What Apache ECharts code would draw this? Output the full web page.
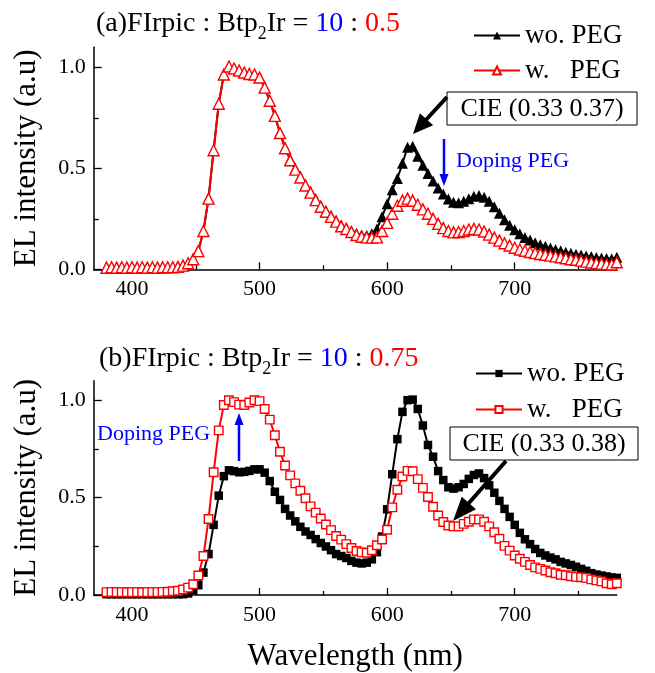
<!DOCTYPE html>
<html><head><meta charset="utf-8">
<script src="https://cdn.jsdelivr.net/npm/echarts@6/dist/echarts.min.js"></script>
<style>html,body{margin:0;padding:0;background:#fff}#c{width:655px;height:673px}</style>
</head><body><div id="c"></div>
<script>
// ---- data ----
const wavelengths = [380,384,388,392,396,400,404,408,412,416,420,424,428,432,436,440,444,448,452,456,
460,464,468,472,476,480,484,488,492,496,500,504,508,512,516,520,524,528,532,536,
540,544,548,552,556,560,564,568,572,576,580,584,588,592,596,600,604,608,612,616,
620,624,628,632,636,640,644,648,652,656,660,664,668,672,676,680,684,688,692,696,
700,704,708,712,716,720,724,728,732,736,740,744,748,752,756,760,764,768,772,776,780];

// (a) wo. PEG (black filled triangles)
const aWo = [0.008,0.01,0.008,0.01,0.008,0.01,0.008,0.01,0.008,0.01,0.008,0.01,0.01,0.01,0.012,0.018,0.03,0.05,0.09,0.19,
0.35,0.59,0.82,0.965,1.005,0.995,0.985,0.975,0.968,0.965,0.95,0.9,0.835,0.76,0.677,0.603,0.545,0.5,0.46,0.42,
0.385,0.348,0.315,0.29,0.265,0.242,0.218,0.205,0.19,0.178,0.17,0.168,0.176,0.2,0.26,0.325,0.394,0.45,0.525,0.605,
0.61,0.56,0.515,0.475,0.437,0.403,0.373,0.348,0.332,0.33,0.337,0.35,0.362,0.366,0.357,0.337,0.31,0.278,0.245,0.218,
0.196,0.176,0.158,0.145,0.132,0.122,0.114,0.106,0.098,0.092,0.085,0.08,0.075,0.071,0.066,0.063,0.059,0.056,0.053,0.052,0.06];
// (a) w. PEG (red open triangles)
const aW = [0.008,0.01,0.008,0.01,0.008,0.01,0.008,0.01,0.008,0.01,0.008,0.01,0.01,0.01,0.012,0.018,0.03,0.05,0.09,0.19,
0.35,0.59,0.82,0.965,1.005,0.995,0.985,0.975,0.968,0.965,0.95,0.9,0.835,0.76,0.675,0.6,0.54,0.494,0.455,0.415,
0.38,0.343,0.31,0.285,0.26,0.236,0.213,0.2,0.185,0.17,0.161,0.158,0.157,0.158,0.19,0.23,0.275,0.315,0.34,0.35,
0.34,0.32,0.297,0.275,0.25,0.225,0.204,0.19,0.183,0.185,0.19,0.197,0.2,0.197,0.187,0.172,0.157,0.142,0.129,0.118,
0.107,0.098,0.092,0.086,0.081,0.076,0.072,0.068,0.064,0.06,0.055,0.05,0.047,0.043,0.038,0.034,0.03,0.028,0.025,0.024,0.035];
// (b) wo. PEG (black filled squares)
const bWo = [0.004,0.004,0.004,0.004,0.004,0.004,0.004,0.004,0.004,0.004,0.004,0.004,0.004,0.004,0.004,0.004,0.008,0.025,0.05,0.115,
0.21,0.36,0.51,0.61,0.64,0.636,0.63,0.632,0.637,0.645,0.645,0.628,0.585,0.53,0.488,0.442,0.408,0.378,0.35,0.326,
0.308,0.287,0.267,0.249,0.23,0.21,0.2,0.19,0.175,0.166,0.162,0.166,0.183,0.22,0.3,0.44,0.62,0.8,0.94,1.0,
1.003,0.955,0.87,0.77,0.71,0.636,0.59,0.553,0.546,0.553,0.57,0.596,0.616,0.624,0.6,0.563,0.525,0.483,0.442,0.401,
0.36,0.319,0.286,0.261,0.236,0.216,0.203,0.192,0.183,0.17,0.162,0.154,0.145,0.134,0.124,0.112,0.105,0.1,0.095,0.09,0.088];
// (b) w. PEG (red open squares)
const bW = [0.015,0.016,0.015,0.015,0.014,0.015,0.015,0.014,0.015,0.015,0.015,0.016,0.017,0.019,0.022,0.028,0.038,0.055,0.1,0.2,
0.39,0.63,0.845,0.975,1.0,0.99,0.977,0.975,0.988,1.0,0.995,0.955,0.9,0.82,0.735,0.665,0.614,0.573,0.535,0.497,
0.455,0.423,0.393,0.362,0.333,0.303,0.284,0.261,0.241,0.226,0.219,0.217,0.23,0.255,0.285,0.335,0.45,0.54,0.608,0.637,
0.635,0.595,0.55,0.503,0.453,0.408,0.375,0.357,0.352,0.352,0.365,0.376,0.388,0.388,0.376,0.352,0.322,0.289,0.252,0.228,
0.203,0.186,0.17,0.154,0.142,0.134,0.126,0.117,0.112,0.104,0.101,0.096,0.093,0.091,0.088,0.08,0.075,0.07,0.06,0.055,0.06];

const xMajorTicks = [400,500,600,700];
const xMinorTicks = [450,550,650,750];
const yMajorTicks = [0,0.5,1.0];
const yMinorTicks = [0.25,0.75];

const FONT = '"Liberation Serif","Times New Roman",serif';
const pairs = v => wavelengths.map((w,i)=>[w,v[i]]);

const chart = echarts.init(document.getElementById('c'), null, {renderer:'canvas'});

const grids = [
  {left:93.7, right:38.2, top:47.3, height:222},
  {left:93.7, right:38.2, top:380.7, height:222}
];
function xAxes(gi, withName){
  return [
    {type:'value', gridIndex:gi, min:370, max:780,
     axisLine:{show:true,lineStyle:{color:'#000',width:1.5}},
     axisTick:{show:true,inside:true,length:7,customValues:xMajorTicks,lineStyle:{color:'#000',width:1.3}},
     axisLabel:{show:true,customValues:xMajorTicks,color:'#000',fontSize:22,fontFamily:FONT,margin:9},
     splitLine:{show:false},
     name: withName?'Wavelength (nm)':'', nameLocation:'middle', nameGap:46,
     nameTextStyle:{color:'#000',fontSize:31,fontFamily:FONT}},
    {type:'value', gridIndex:gi, min:370, max:780, position:'bottom',
     axisLine:{show:false},
     axisTick:{show:true,inside:true,length:4,customValues:xMinorTicks,lineStyle:{color:'#000',width:1.3}},
     axisLabel:{show:false,customValues:xMinorTicks},
     splitLine:{show:false}}
  ];
}
function yAxes(gi){
  return [
    {type:'value', gridIndex:gi, min:0, max:1.1,
     axisLine:{show:true,lineStyle:{color:'#000',width:1.5}},
     axisTick:{show:true,inside:true,length:8,customValues:yMajorTicks,lineStyle:{color:'#000',width:1.3}},
     axisLabel:{show:true,customValues:yMajorTicks,color:'#000',fontSize:22,fontFamily:FONT,margin:8,
       formatter:v=>v.toFixed(1)},
     splitLine:{show:false},
     name:'EL intensity (a.u)', nameLocation:'middle', nameGap:51,
     nameTextStyle:{color:'#000',fontSize:31,fontFamily:FONT}},
    {type:'value', gridIndex:gi, min:0, max:1.1, position:'left',
     axisLine:{show:false},
     axisTick:{show:true,inside:true,length:5,customValues:yMinorTicks,lineStyle:{color:'#000',width:1.3}},
     axisLabel:{show:false,customValues:yMinorTicks},
     splitLine:{show:false}}
  ];
}

function lineSeries(name, data, xi, yi, symbol, size, filled, color){
  return {
    type:'line', name, data:pairs(data), xAxisIndex:xi, yAxisIndex:yi,
    symbol, symbolSize:size, showSymbol:true, showAllSymbol:true,
    lineStyle:{color, width:2},
    itemStyle: filled ? {color, borderColor:color, borderWidth:0} : {color:'#fff', borderColor:color, borderWidth:1.4},
    emphasis:{disabled:true}, z: filled?2:3
  };
}

const legendText = {color:'#000',fontSize:27,fontFamily:FONT};

const option = {
  animation:false,
  backgroundColor:'#fff',
  grid:grids,
  xAxis:[...xAxes(0,false), ...xAxes(1,true)],
  yAxis:[...yAxes(0), ...yAxes(1)],
  legend:[
    {data:['wo. PEG','w.   PEG'], orient:'vertical', left:468, top:17, itemGap:8,
     itemWidth:46, itemHeight:10, textStyle:legendText, selectedMode:false},
    {data:['wo. PEG ','w.   PEG '], orient:'vertical', left:470, top:355, itemGap:9,
     itemWidth:46, itemHeight:9, textStyle:legendText, selectedMode:false}
  ],
  series:[
    lineSeries('wo. PEG', aWo, 0, 0, 'triangle', 11, true, '#000'),
    lineSeries('w.   PEG', aW, 0, 0, 'triangle', 11, false, '#ff0000'),
    lineSeries('wo. PEG ', bWo, 2, 2, 'rect', 8.5, true, '#000'),
    lineSeries('w.   PEG ', bW, 2, 2, 'rect', 8.5, false, '#ff0000')
  ]
};
chart.setOption(option);

// ---- annotations ----
const mctx = document.createElement('canvas').getContext('2d');
function tw(txt, size){ mctx.font = size+'px '+FONT; return mctx.measureText(txt).width; }
function titleRow(pieces, x0, cy){
  const els = []; let x = x0;
  pieces.forEach(p=>{
    els.push({type:'text', z:100, style:{text:p[0], x, y:cy+p[3], fill:p[2], font:p[1]+'px '+FONT, verticalAlign:'middle', align:'left'}});
    x += tw(p[0], p[1]);
  });
  return els;
}
function arrow(x1,y1,x2,y2,hl,hw,lw,color){
  const dx=x2-x1, dy=y2-y1, L=Math.hypot(dx,dy), ux=dx/L, uy=dy/L;
  const bx=x2-ux*hl, by=y2-uy*hl, px=-uy, py=ux;
  return [
    {type:'line', z:100, shape:{x1,y1,x2:bx+ux*1,y2:by+uy*1}, style:{stroke:color,lineWidth:lw}},
    {type:'polygon', z:100, shape:{points:[[x2,y2],[bx+px*hw/2,by+py*hw/2],[bx-px*hw/2,by-py*hw/2]]}, style:{fill:color}}
  ];
}
function box(x,y,w,h,txt){
  return [
    {type:'rect', z:100, shape:{x,y,width:w,height:h}, style:{fill:'#fff',stroke:'#000',lineWidth:1}},
    {type:'text', z:101, style:{text:txt, x:x+w/2, y:y+h/2+1, align:'center', verticalAlign:'middle', fill:'#000', font:'26px '+FONT}}
  ];
}
const graphics = [
  ...titleRow([['(a)FIrpic : Btp',28,'#000',0],['2',18,'#000',10],['Ir = ',28,'#000',0],['10',28,'#0000ff',0],[' : ',28,'#000',0],['0.5',28,'#ff0000',0]], 96, 24),
  ...titleRow([['(b)FIrpic : Btp',28,'#000',0],['2',18,'#000',10],['Ir = ',28,'#000',0],['10',28,'#0000ff',0],[' : ',28,'#000',0],['0.75',28,'#ff0000',0]], 99, 359),
  ...box(447,92,190,33,'CIE (0.33 0.37)'),
  ...box(450,427,188,33,'CIE (0.33 0.38)'),
  ...arrow(447,97,413,134,20,18,4,'#000'),
  ...arrow(506,461,453,521,24,19,4,'#000'),
  ...arrow(444,139,444,186,12,9,2.5,'#0000ff'),
  ...arrow(239,461,239,413,12,9,2.5,'#0000ff'),
  {type:'text', z:100, style:{text:'Doping PEG', x:456, y:161, align:'left', verticalAlign:'middle', fill:'#0000ff', font:'22px '+FONT}},
  {type:'text', z:100, style:{text:'Doping PEG', x:97, y:434, align:'left', verticalAlign:'middle', fill:'#0000ff', font:'22px '+FONT}}
];
chart.setOption({graphic:graphics});
</script></body></html>
